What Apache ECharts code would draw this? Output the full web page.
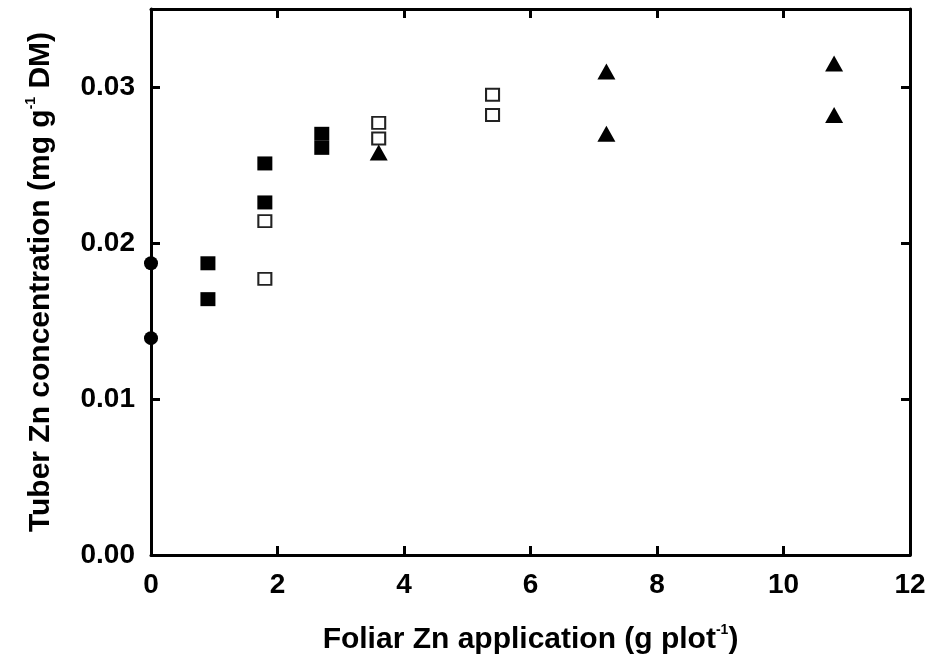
<!DOCTYPE html>
<html>
<head>
<meta charset="utf-8">
<title>Tuber Zn concentration</title>
<script src="https://cdn.jsdelivr.net/npm/echarts@6/dist/echarts.min.js"></script>
<style>
  html, body { margin: 0; padding: 0; background: #fff; }
  #main { width: 935px; height: 664px; }
</style>
</head>
<body>
<div id="main"></div>
<script>
// control plots (no foliar Zn)
var controlX = [0, 0];
var controlY = [0.0187, 0.0139];
// filled squares
var filledSqX = [0.9, 0.9, 1.8, 1.8, 2.7, 2.7];
var filledSqY = [0.0187, 0.0164, 0.0251, 0.0226, 0.0270, 0.0261];
// open squares
var openSqX = [1.8, 1.8, 3.6, 3.6, 5.4, 5.4];
var openSqY = [0.0214, 0.0177, 0.0277, 0.0267, 0.0295, 0.0282];
// triangles
var triX = [3.6, 7.2, 7.2, 10.8, 10.8];
var triY = [0.0258, 0.0310, 0.0270, 0.0315, 0.0282];

var xTicks = [0, 2, 4, 6, 8, 10, 12];
var yTicks = ['0.00', '0.01', '0.02', '0.03'];

function pairs(xs, ys) {
    return xs.map(function (x, i) { return [x, ys[i]]; });
}

var font = "'Liberation Sans', Arial, sans-serif";
var myChart = echarts.init(document.getElementById('main'));

var axisLine = { show: true, onZero: false, lineStyle: { color: '#000', width: 3 } };
var axisTick = { show: true, inside: true, length: 9, lineStyle: { color: '#000', width: 3 } };

// rich styles for the axis titles (superscript -1)
var titleRich = {
    b: { fontFamily: font, fontWeight: 'bold', fontSize: 30, color: '#000', lineHeight: 34 },
    s: { fontFamily: font, fontWeight: 'bold', fontSize: 14, color: '#000', lineHeight: 34, verticalAlign: 'top' }
};

var option = {
    backgroundColor: '#fff',
    animation: false,
    grid: { left: 151, right: 25, top: 9, bottom: 109 },
    xAxis: [
        {
            type: 'value', min: 0, max: 12, interval: 2,
            axisLine: axisLine, axisTick: axisTick,
            splitLine: { show: false },
            axisLabel: {
                margin: 16, color: '#000', fontFamily: font, fontWeight: 'bold', fontSize: 28,
                formatter: function (v) { return xTicks.indexOf(v) >= 0 ? String(v) : ''; }
            },
            name: '{b|Foliar Zn application (g plot}{s|-1}{b|)}',
            nameLocation: 'middle',
            nameGap: 68,
            nameTextStyle: { rich: titleRich }
        },
        {
            type: 'value', min: 0, max: 12, interval: 2, position: 'top',
            axisLine: axisLine, axisTick: axisTick,
            splitLine: { show: false }, axisLabel: { show: false }
        }
    ],
    yAxis: [
        {
            type: 'value', min: 0, max: 0.035, interval: 0.01,
            axisLine: axisLine, axisTick: axisTick,
            splitLine: { show: false },
            axisLabel: {
                margin: 16, color: '#000', fontFamily: font, fontWeight: 'bold', fontSize: 28,
                formatter: function (v) {
                    var k = Math.round(v * 100);
                    if (Math.abs(v * 100 - k) > 1e-6) return '';
                    return yTicks[k] || '';
                }
            },
            name: '{b|Tuber Zn concentration (mg g}{s|-1}{b| DM)}',
            nameLocation: 'middle',
            nameRotate: 90,
            nameGap: 93,
            nameTextStyle: { rich: titleRich }
        },
        {
            type: 'value', min: 0, max: 0.035, interval: 0.01, position: 'right',
            axisLine: axisLine, axisTick: axisTick,
            splitLine: { show: false }, axisLabel: { show: false }
        }
    ],
    series: [
        {
            type: 'scatter', clip: false, symbol: 'circle', symbolSize: 14,
            itemStyle: { color: '#000', opacity: 1 },
            data: pairs(controlX, controlY)
        },
        {
            type: 'scatter', clip: false, symbol: 'rect', symbolSize: [15, 14],
            itemStyle: { color: '#000', opacity: 1 },
            data: pairs(filledSqX, filledSqY)
        },
        {
            type: 'scatter', clip: false, symbol: 'rect', symbolSize: [13, 12],
            itemStyle: { color: '#fff', borderColor: '#222', borderWidth: 2, opacity: 1 },
            data: pairs(openSqX, openSqY)
        },
        {
            type: 'scatter', clip: false, symbol: 'triangle', symbolSize: [18, 16],
            itemStyle: { color: '#000', opacity: 1 },
            data: pairs(triX, triY)
        }
    ]
};

myChart.setOption(option);
</script>
</body>
</html>
